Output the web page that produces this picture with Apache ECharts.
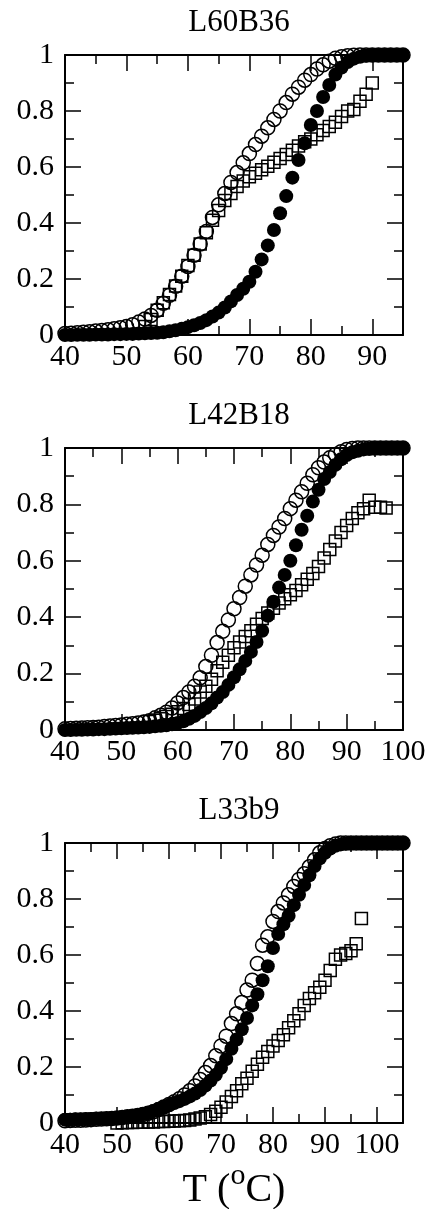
<!DOCTYPE html>
<html>
<head>
<meta charset="utf-8">
<script src="https://cdn.jsdelivr.net/npm/echarts@6/dist/echarts.min.js"></script>
<style>
html,body{margin:0;padding:0;background:#fff;}
#chart{width:428px;height:1209px;}
</style>
</head>
<body>
<div id="chart"></div>
<script>
// ---------------- DATA ----------------
const titles = ['L60B36', 'L42B18', 'L33b9'];
const yTicks = [0, 0.2, 0.4, 0.6, 0.8, 1];

// Panel 1 : L60B36
const temps1 = [40,41,42,43,44,45,46,47,48,49,50,51,52,53,54,55,56,57,58,59,60,61,62,63,64,65,66,67,68,69,70,71,72,73,74,75,76,77,78,79,80,81,82,83,84,85,86,87,88,89,90,91,92,93,94,95];
const open1 = [0.005,0.006,0.008,0.01,0.012,0.014,0.016,0.019,0.022,0.026,0.03,0.037,0.046,0.057,0.07,0.088,0.113,0.142,0.174,0.21,0.245,0.285,0.325,0.37,0.42,0.465,0.505,0.545,0.58,0.615,0.648,0.68,0.71,0.74,0.77,0.8,0.83,0.86,0.885,0.91,0.93,0.95,0.965,0.978,0.988,0.994,0.997,0.999,1,1,1,1,1,1,1,1];
const filled1 = [0,0,0.001,0.001,0.001,0.002,0.002,0.002,0.003,0.003,0.004,0.004,0.005,0.006,0.007,0.008,0.01,0.013,0.017,0.022,0.028,0.035,0.043,0.053,0.066,0.08,0.098,0.12,0.143,0.165,0.19,0.226,0.27,0.32,0.375,0.435,0.496,0.562,0.625,0.685,0.75,0.8,0.85,0.893,0.93,0.955,0.975,0.987,0.994,0.998,1,1,1,1,1,1];
const square1 = [null,null,null,null,null,null,null,null,null,null,null,null,null,0.03,0.055,0.088,0.115,0.145,0.175,0.21,0.248,0.285,0.325,0.365,0.41,0.445,0.48,0.505,0.53,0.55,0.565,0.578,0.59,0.603,0.617,0.63,0.645,0.66,0.675,0.69,0.7,0.715,0.73,0.745,0.76,0.78,0.8,0.805,0.835,0.86,0.9,null,null,null,null,null];

// Panel 2 : L42B18
const temps2 = [40,41,42,43,44,45,46,47,48,49,50,51,52,53,54,55,56,57,58,59,60,61,62,63,64,65,66,67,68,69,70,71,72,73,74,75,76,77,78,79,80,81,82,83,84,85,86,87,88,89,90,91,92,93,94,95,96,97,98,99,100];
const open2 = [0.004,0.005,0.006,0.007,0.008,0.009,0.01,0.012,0.014,0.016,0.018,0.02,0.022,0.025,0.028,0.033,0.043,0.052,0.063,0.078,0.096,0.115,0.135,0.155,0.185,0.225,0.265,0.31,0.35,0.39,0.43,0.47,0.51,0.55,0.585,0.62,0.658,0.69,0.72,0.75,0.785,0.815,0.845,0.875,0.905,0.93,0.95,0.965,0.977,0.987,0.995,0.998,1,1,1,1,1,1,1,1,1];
const filled2 = [0,0,0.001,0.001,0.002,0.002,0.003,0.003,0.004,0.005,0.006,0.007,0.008,0.009,0.01,0.011,0.013,0.015,0.017,0.02,0.025,0.031,0.04,0.05,0.064,0.078,0.095,0.115,0.135,0.16,0.187,0.215,0.245,0.277,0.312,0.352,0.405,0.455,0.505,0.55,0.6,0.655,0.71,0.76,0.81,0.852,0.89,0.915,0.94,0.96,0.975,0.985,0.99,0.995,0.997,1,1,1,1,1,1];
const square2 = [null,null,null,null,null,null,null,null,null,null,null,null,null,null,null,0.03,0.035,0.04,0.048,0.056,0.065,0.076,0.09,0.11,0.135,0.155,0.18,0.21,0.24,0.265,0.292,0.312,0.332,0.352,0.375,0.395,0.415,0.432,0.45,0.465,0.48,0.495,0.515,0.535,0.555,0.58,0.61,0.64,0.67,0.7,0.725,0.75,0.77,0.785,0.815,0.79,0.79,0.787,null,null,null];

// Panel 3 : L33b9
const temps3 = [40,41,42,43,44,45,46,47,48,49,50,51,52,53,54,55,56,57,58,59,60,61,62,63,64,65,66,67,68,69,70,71,72,73,74,75,76,77,78,79,80,81,82,83,84,85,86,87,88,89,90,91,92,93,94,95,96,97,98,99,100,101,102,103,104,105];
const open3 = [0.008,0.009,0.01,0.01,0.011,0.012,0.013,0.014,0.015,0.016,0.018,0.02,0.022,0.024,0.027,0.03,0.035,0.04,0.048,0.057,0.066,0.076,0.087,0.1,0.115,0.132,0.155,0.18,0.205,0.24,0.275,0.31,0.355,0.39,0.43,0.475,0.51,0.57,0.635,0.665,0.72,0.755,0.786,0.815,0.845,0.87,0.89,0.915,0.94,0.965,0.98,0.99,0.996,1,1,1,1,1,1,1,1,1,1,1,1,1];
const filled3 = [0.012,0.012,0.013,0.013,0.014,0.014,0.015,0.015,0.016,0.017,0.018,0.02,0.022,0.025,0.028,0.032,0.037,0.043,0.05,0.057,0.064,0.071,0.078,0.086,0.095,0.105,0.118,0.134,0.152,0.172,0.197,0.228,0.265,0.298,0.335,0.375,0.42,0.46,0.51,0.56,0.625,0.675,0.71,0.74,0.778,0.815,0.85,0.885,0.918,0.945,0.965,0.98,0.99,0.995,0.998,1,1,1,1,1,1,1,1,1,1,1];
const square3 = [null,null,null,null,null,null,null,null,null,null,0,0.001,0.002,0.002,0.003,0.003,0.004,0.004,0.005,0.005,0.006,0.007,0.008,0.009,0.011,0.014,0.018,0.022,0.03,0.042,0.056,0.075,0.095,0.115,0.14,0.16,0.185,0.21,0.235,0.255,0.275,0.295,0.315,0.34,0.365,0.39,0.42,0.445,0.465,0.485,0.51,0.545,0.585,0.6,0.605,0.615,0.64,0.73,null,null,null,null,null,null,null,null];

const xMins = [40, 40, 40];
const xMaxs = [95, 100, 105];

// ---------------- LAYOUT / STYLE ----------------
const FONT = '"Liberation Serif", "Times New Roman", serif';
const gridTops = [55, 448, 843];
const gridH = [280, 282, 280];
const GL = 65, GW = 338;
const MAJ = 16, MIN = 9;

function pairs(xs, ys) {
  const out = [];
  for (let i = 0; i < xs.length; i++) if (ys[i] !== null) out.push([xs[i], ys[i]]);
  return out;
}

const panels = [
  {t: temps1, o: open1, f: filled1, s: square1},
  {t: temps2, o: open2, f: filled2, s: square2},
  {t: temps3, o: open3, f: filled3, s: square3}
];

const grid = [], xAxis = [], yAxis = [], series = [], title = [];
const line = {color: '#000', width: 2};
const tickLine = {color: '#000', width: 1.5};

panels.forEach((p, i) => {
  grid.push({left: GL, top: gridTops[i], width: GW, height: gridH[i], containLabel: false, outerBoundsMode: 'none'});
  title.push({
    text: titles[i], left: GL + GW / 2, textAlign: 'center', top: gridTops[i] - 53,
    textStyle: {fontFamily: FONT, fontSize: 31, fontWeight: 'normal', color: '#000'}
  });
  const common = {
    type: 'value', gridIndex: i, min: xMins[i], max: xMaxs[i], interval: 10,
    axisLine: {show: true, lineStyle: line, onZero: false},
    axisTick: {show: true, inside: true, length: MAJ, lineStyle: tickLine},
    minorTick: {show: true, splitNumber: 2, length: MIN, lineStyle: tickLine},
    splitLine: {show: false}, minorSplitLine: {show: false}
  };
  const xb = Object.assign({}, common, {
    position: 'bottom',
    axisLabel: {show: true, fontFamily: FONT, fontSize: 30, color: '#000', margin: 7,
      formatter: v => (Math.round(v) % 10 === 0 ? String(Math.round(v)) : '')}
  });
  if (i === 2) {
    xb.name = 'T ({sup|o}C)';
    xb.nameLocation = 'middle';
    xb.nameGap = 36;
    xb.nameTextStyle = {
      fontFamily: FONT, fontSize: 40, color: '#000', lineHeight: 60,
      rich: {sup: {fontFamily: FONT, fontSize: 30, color: '#000', verticalAlign: 'top', lineHeight: 30}}
    };
  }
  xAxis.push(xb);
  xAxis.push(Object.assign({}, common, {position: 'top', axisLabel: {show: false}}));
  const ycommon = {
    type: 'value', gridIndex: i, min: 0, max: 1, interval: 0.2,
    axisLine: {show: true, lineStyle: line, onZero: false},
    axisTick: {show: true, inside: true, length: MAJ, lineStyle: tickLine},
    minorTick: {show: true, splitNumber: 2, length: MIN, lineStyle: tickLine},
    splitLine: {show: false}, minorSplitLine: {show: false}
  };
  yAxis.push(Object.assign({}, ycommon, {
    position: 'left',
    axisLabel: {show: true, fontFamily: FONT, fontSize: 30, color: '#000', margin: 11,
      formatter: v => (yTicks.indexOf(Math.round(v * 10) / 10) >= 0 ? String(Math.round(v * 10) / 10) : '')}
  }));
  yAxis.push(Object.assign({}, ycommon, {position: 'right', axisLabel: {show: false}}));

  const base = {type: 'scatter', xAxisIndex: 2 * i, yAxisIndex: 2 * i, clip: false, silent: true};
  series.push(Object.assign({}, base, {
    data: pairs(p.t, p.o), symbol: 'circle', symbolSize: 14,
    itemStyle: {color: 'rgba(255,255,255,0)', borderColor: '#000', borderWidth: 1.5, opacity: 1}
  }));
  series.push(Object.assign({}, base, {
    data: pairs(p.t, p.f), symbol: 'circle', symbolSize: 14,
    itemStyle: {color: '#000', borderColor: '#000', borderWidth: 0, opacity: 1}
  }));
  series.push(Object.assign({}, base, {
    data: pairs(p.t, p.s), symbol: 'rect', symbolSize: 12,
    itemStyle: {color: 'rgba(255,255,255,0)', borderColor: '#000', borderWidth: 1.5, opacity: 1}
  }));
});

const chart = echarts.init(document.getElementById('chart'), null, {renderer: 'canvas'});
chart.setOption({
  animation: false,
  backgroundColor: '#fff',
  title, grid, xAxis, yAxis, series
});
</script>
</body>
</html>
